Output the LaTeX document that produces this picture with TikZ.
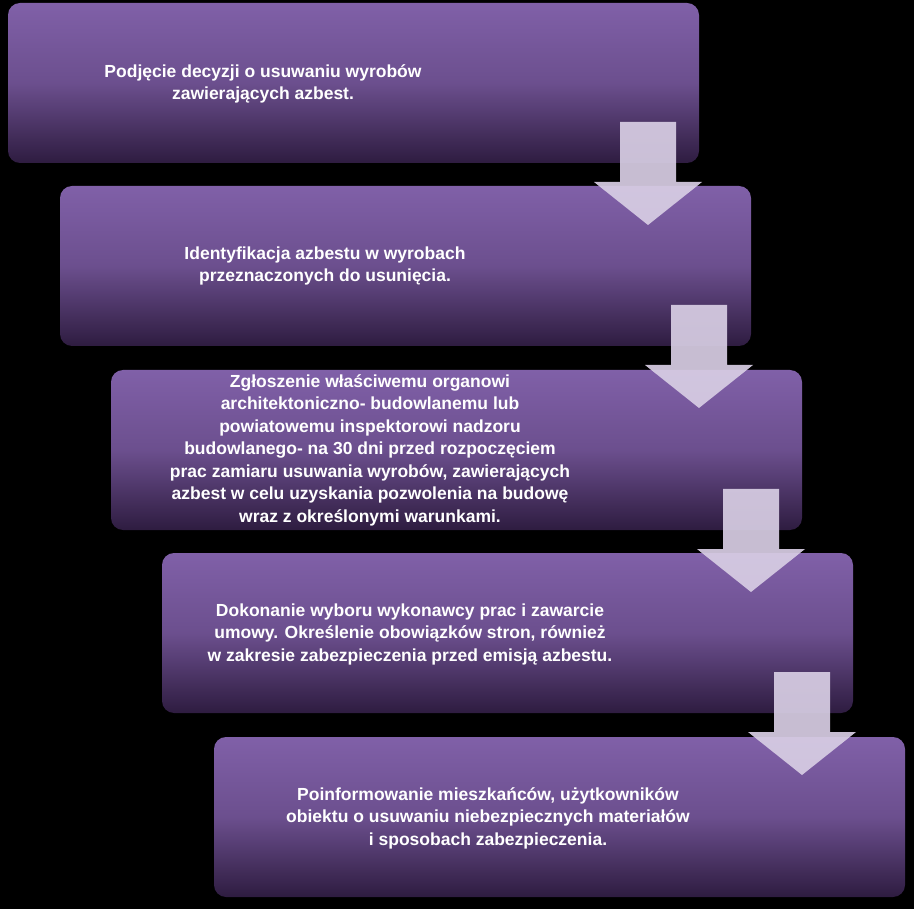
\documentclass[tikz,border=0pt]{standalone}
\usepackage{fontspec}
\setmainfont{Liberation Sans}
\definecolor{ptop}{HTML}{8060A8}
\definecolor{pbot}{HTML}{2E1C40}
\definecolor{arr}{HTML}{D8CEE4}
\begin{document}
\begin{tikzpicture}[x=1pt,y=-1pt]
\tikzset{
 stepbox/.style={rounded corners=12pt,top color=ptop,bottom color=pbot,middle color=ptop!75!pbot,draw=none},
 txt/.style={text=white,font=\bfseries\fontsize{17.5}{22.5}\selectfont,align=center,inner sep=0pt},
 arrowshape/.style={fill=arr,fill opacity=0.92,draw=none}
}
\fill[black] (0,0) rectangle (914,909);
\useasboundingbox (0,0) rectangle (914,909);
\foreach \i/\x/\y in {1/8/3,2/60/186,3/111/370,4/162/553,5/214/737}{
  \shade[stepbox] (\x,\y) rectangle ++(691,160);
}
\node[txt] (t1) at (263,84) {Podjęcie decyzji o usuwaniu wyrobów\\zawierających azbest.};
\node[txt] (t2) at (325,266) {Identyfikacja azbestu w wyrobach\\przeznaczonych do usunięcia.};
\node[txt] (t3) at (370,450) {Zgłoszenie właściwemu organowi\\architektoniczno- budowlanemu lub\\powiatowemu inspektorowi nadzoru\\budowlanego- na 30 dni przed rozpoczęciem\\prac zamiaru usuwania wyrobów, zawierających\\azbest w celu uzyskania pozwolenia na budowę\\wraz z określonymi warunkami.};
\node[txt] (t4) at (410,634) {Dokonanie wyboru wykonawcy prac i zawarcie\\umowy. Określenie obowiązków stron, również\\w zakresie zabezpieczenia przed emisją azbestu.};
\node[txt] (t5) at (488,818) {Poinformowanie mieszkańców, użytkowników\\obiektu o usuwaniu niebezpiecznych materiałów\\i sposobach zabezpieczenia.};
\foreach \x/\y in {594/122,645/305,697/489,748/672}{
  \fill[arrowshape] (\x+26,\y) -- (\x+82,\y) -- (\x+82,\y+60) -- (\x+108,\y+60)
     -- (\x+54,\y+103) -- (\x,\y+60) -- (\x+26,\y+60) -- cycle;
}
\end{tikzpicture}
\end{document}
